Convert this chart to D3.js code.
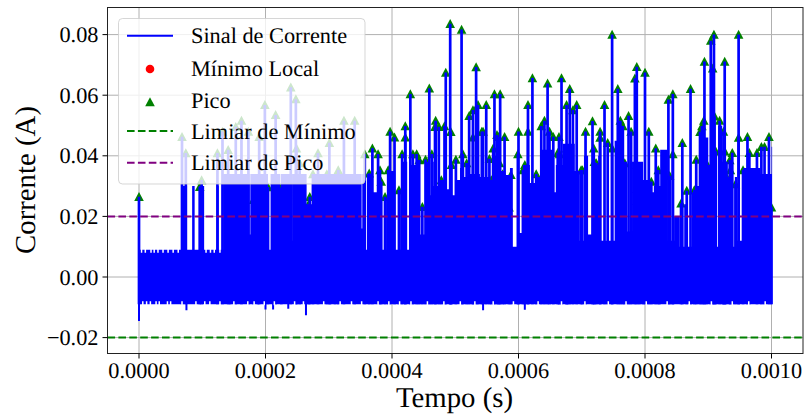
<!DOCTYPE html>
<html><head><meta charset="utf-8">
<script src="https://cdn.jsdelivr.net/npm/d3@7/dist/d3.min.js"></script>
<style>html,body{margin:0;padding:0;background:#fff}svg{display:block}text{font-family:"Liberation Serif",serif;fill:#000;text-rendering:geometricPrecision}</style>
</head><body><div id="c"></div>
<script>
// all times in microseconds, all currents in milliamperes
const peakTimes = [0,68,74,96,99,124,132,141,144,153,162,173,181,188,190,199,204,216,225,240,248,249,254,268,270,275,283,297,301,302,310,315,324,341,357,364,369,378,381,383,389,394,397,404,411,416,421,421,429,433,439,443,448,453,459,463,468,469,474,478,483,485,492,492,493,494,501,510,512,518,522,528,528,533,536,542,544,549,554,557,560,562,566,568,570,571,575,578,585,588,599,600,607,610,615,615,622,628,636,641,646,649,655,662,664,665,668,676,676,678,681,686,692,699,701,706,717,719,720,723,729,729,736,741,748,748,757,761,765,768,774,778,784,787,791,797,800,806,810,817,821,823,837,839,844,844,857,859,866,872,878,881,887,890,893,894,897,904,907,909,910,912,918,923,924,926,926,928,934,935,938,943,948,948,955,962,965,977,984,989,996,1000];
const peakValues = [26.5,46.3,40.9,29.8,32,40.9,48,42,29.7,49.6,51.6,48,25.5,26,46.3,56.8,29.7,53.5,29.5,62.6,58.7,42.5,37.6,24,26.5,34,40.9,34,44.3,29,32,35.3,51.6,51.6,40.6,34.2,42.5,40.6,35.3,31.5,26.5,35.3,48,46.1,28.7,40.6,49.8,46.1,60.4,40.6,40.6,38.6,23.2,38.8,62.3,40.6,49.6,51.6,49.6,32,49.8,67.5,83.6,24.8,47.9,37,38.8,81.7,40.6,37.6,53.2,55.1,46.1,69.3,56.8,48,48,56.8,39,32,42.5,60.4,46.9,46.3,37.6,60.4,34,46.3,23,33.7,40.6,48,35.3,37,56.8,48,65.7,34,49.8,51.6,63.9,48,46.3,41,46.3,40.6,65.7,56.8,42.5,42,62.1,55.1,56.8,35.3,35.3,48,51.5,42.5,38,37.6,48,46,56.8,44.3,80,42.5,62.1,51.6,49.8,37.6,53.2,48,65.6,69.4,32.6,28.7,67.5,48,31.5,42.5,35.3,26.5,58.6,33.4,60.4,40.6,24.3,44.3,28.5,62.1,28.7,38.8,47.9,49.8,51.6,71.1,37.6,78,68.9,80,53,41.5,51.6,33,48,71.1,41.5,33.4,38.6,35.3,41,30.7,80,46,35.3,46.3,41,41,43,43,46.3,23];
const bodyTimes = [0,68,76,84,88,95,103,123,126,133,152,153,175,176,189,191,204,208,223,224,241,242,265,276,352,353,357,360.5,370,384,389,392,394,405,409.5,414,417,424,427,439.5,443.5,452,457,462,466,479,487,492,500,507.5,514,523,539,555,558,566,579,586.5,591,598,607,618,626,634,654.5,659,670,689,697,703.5,710,716,721,726,729,752,756,764,771.5,779.5,797,808,814,824,836,846,855,862,868,874,879,887,892,900,904,915.5,922,926.5,931,934,942,945.5,955,982,1000,1001];
const bodyHigh = [9,30,9,30,9,30,9,30,9,34,13,34,14,34,9,34,9,34,9,34,12,34,24,34,16,34,9,34,28,9,26,9,35,9,28.7,9,38,9,37,32,14,38,27,38,30,32,29,27,32,36,33,34,33,12,40,35,33.7,36,10,14.5,37,31,33,42,28,37,44,35,12,40,14,38,37,40,12,45,50,38,15,38,32,28,30,42,12,20,10,24,10,28,30,40,46,37,10,50,38,38,33,10,33,12,36,34,43,9,9];
const bodyLow = [-9];
const endLow = [-8];
const topNotchTimes = [4,10,19,24,30,38,46,54,62,106,113,119,128];
const topNotchValue = [8];
const dipTimes = [0,75,200,212,236,264,544,610];
const dipValues = [-14.5,-11,-10.7,-10.7,-10.5,-12.6,-11,-10.8];
const notchTimes = [6,12,18,27,32,45,50,68,90,104,112,128,150,172,182,198,214,246,260,292,318,336,352,378,395,412,430,456,482,508,531,560,592,631,668,705,742,770,802,835,870,905,938,964,990];
const xTicks = [0,200,400,600,800,1000];
const yTicks = [-20,0,20,40,60,80];
const minThreshold = -20, peakThreshold = 20;
const legendLabels = ["Sinal de Corrente","Mínimo Local","Pico","Limiar de Mínimo","Limiar de Pico"];
const legendColors = ["#0000ff","#ff0000","#008000","#008000","#800080"];
const legendKinds = ["line","circle","triangle","dash","dash"];
const legendRows = [0,1,2,3,4];

const W=804,H=414,L=107.5,R=803,T=7.5,B=353.5;
const x=d3.scaleLinear().domain([0,1000]).range([139,771.5]);
const y=d3.scaleLinear().domain([0,80]).range([277,34.6]);
const svg=d3.select("#c").append("svg").attr("width",W).attr("height",H);
svg.append("defs").append("clipPath").attr("id","ax").append("rect").attr("x",L).attr("y",T).attr("width",R-L).attr("height",B-T);

const grid=svg.append("g").attr("stroke","#b0b0b0").attr("stroke-width",1);
xTicks.forEach(t=>grid.append("line").attr("x1",x(t)).attr("x2",x(t)).attr("y1",T).attr("y2",B));
yTicks.forEach(t=>grid.append("line").attr("x1",L).attr("x2",R).attr("y1",y(t)).attr("y2",y(t)));

const plot=svg.append("g").attr("clip-path","url(#ax)");
const tri="M0,-4.8L4.8,4.2L-4.8,4.2Z";
plot.append("g").attr("fill","#008000").selectAll("path").data(peakTimes).join("path")
  .attr("d",tri).attr("transform",(t,i)=>`translate(${x(t)},${y(peakValues[i])})`);

const rows=bodyTimes.map((t,i)=>({t,hi:bodyHigh[i]}));
plot.append("path").datum(rows).attr("fill","#0000ff")
  .attr("d",d3.area().curve(d3.curveStepAfter).x(d=>x(d.t)).y0(y(bodyLow[0])).y1(d=>y(d.hi)));
plot.append("g").attr("stroke","#fff").attr("stroke-width",1.5).selectAll("line").data(topNotchTimes).join("line")
  .attr("x1",t=>x(t)).attr("x2",t=>x(t)).attr("y1",y(9)-1).attr("y2",y(topNotchValue[0]));
plot.append("g").attr("stroke","#0000ff").attr("stroke-width",2.7).selectAll("line").data(peakTimes).join("line")
  .attr("x1",t=>x(t)).attr("x2",t=>x(t)).attr("y1",y(bodyLow[0])).attr("y2",(t,i)=>y(peakValues[i]));
plot.append("g").attr("stroke","#0000ff").attr("stroke-width",2).selectAll("line").data(dipTimes).join("line")
  .attr("x1",t=>x(t)).attr("x2",t=>x(t)).attr("y1",y(0)).attr("y2",(t,i)=>y(dipValues[i]));
plot.append("g").attr("stroke","#fff").attr("stroke-width",1.5).selectAll("line").data(notchTimes).join("line")
  .attr("x1",t=>x(t)).attr("x2",t=>x(t)).attr("y1",y(bodyLow[0])+1).attr("y2",y(endLow[0]));

[[minThreshold,"#008000"],[peakThreshold,"#800080"]].forEach(([v,c])=>{
  svg.append("line").attr("x1",L).attr("x2",R).attr("y1",y(v)).attr("y2",y(v))
    .attr("stroke",c).attr("stroke-width",2).attr("stroke-dasharray","7.6,3.3");
});

const frame=svg.append("g").attr("stroke","#222").attr("fill","none").attr("stroke-width",1);
frame.append("rect").attr("x",L).attr("y",T).attr("width",R-L).attr("height",B-T);
const ax=svg.append("g");
xTicks.forEach(t=>{
  ax.append("line").attr("x1",x(t)).attr("x2",x(t)).attr("y1",B).attr("y2",B+5).attr("stroke","#000");
  ax.append("text").attr("x",x(t)).attr("y",378).attr("text-anchor","middle").attr("font-size",22.3).text((t/1e6).toFixed(4));
});
yTicks.forEach(t=>{
  ax.append("line").attr("x1",L-5).attr("x2",L).attr("y1",y(t)).attr("y2",y(t)).attr("stroke","#000");
  ax.append("text").attr("x",L-9).attr("y",y(t)+7.5).attr("text-anchor","end").attr("font-size",22.3)
    .text((t<0?"\u2212":"")+(Math.abs(t)/1000).toFixed(2));
});
svg.append("text").attr("x",454.5).attr("y",406.5).attr("text-anchor","middle").attr("font-size",28.8).text("Tempo (s)");
svg.append("text").attr("transform","translate(35,180) rotate(-90)").attr("text-anchor","middle").attr("font-size",28.8).text("Corrente (A)");

const leg=svg.append("g");
leg.append("rect").attr("x",118.5).attr("y",18.5).attr("width",246.5).attr("height",165.5).attr("rx",4)
  .attr("fill","#fff").attr("fill-opacity",.8).attr("stroke","#ccc").attr("stroke-opacity",.8);
const rowY=[35.7,69,102,131,162.7], baseY=[43.3,76,108,138.5,170];
legendRows.forEach(i=>{
  const k=legendKinds[i],c=legendColors[i],yy=rowY[i];
  if(k==="line"||k==="dash"){
    const l=leg.append("line").attr("x1",127).attr("x2",173).attr("y1",yy).attr("y2",yy).attr("stroke",c).attr("stroke-width",2);
    if(k==="dash")l.attr("stroke-dasharray","7.6,3.3");
  } else if(k==="circle"){
    leg.append("circle").attr("cx",150).attr("cy",yy).attr("r",4.3).attr("fill",c);
  } else {
    leg.append("path").attr("d",tri).attr("transform",`translate(150,${yy})`).attr("fill",c);
  }
  leg.append("text").attr("x",191).attr("y",baseY[i]).attr("font-size",22.3).text(legendLabels[i]);
});
</script></body></html>
